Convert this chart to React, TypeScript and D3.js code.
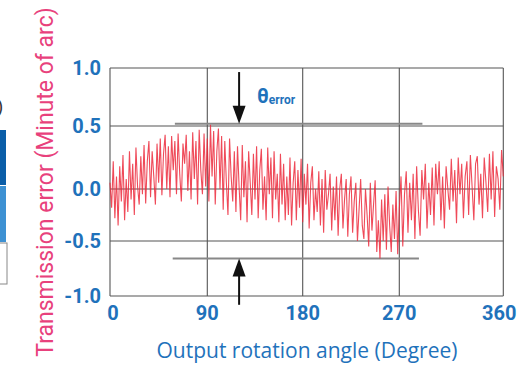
import { useEffect, useRef } from 'react'
import * as d3 from 'd3'

// sampled every 1.5 degrees, 0..360
const STEP = 1.5
const errorValues: number[] = [
  0.05, -0.18, 0.22, -0.28, 0.1, -0.35, 0.18, -0.12, 0.27, -0.3,
  0.08, -0.22, 0.3, -0.1, 0.2, -0.25, 0.33, 0.02, -0.15, 0.26,
  -0.05, 0.35, -0.14, 0.22, 0.38, -0.08, 0.3, 0.1, -0.15, 0.36,
  0.05, 0.4, -0.06, 0.28, 0.43, 0.0, 0.34, -0.08, 0.42, 0.15,
  0.38, -0.05, 0.44, 0.12, -0.12, 0.36, 0.2, 0.43, -0.02, 0.3,
  -0.1, 0.45, 0.08, 0.38, -0.15, 0.47, 0.15, -0.05, 0.44, 0.02,
  0.4, -0.12, 0.51, 0.1, 0.46, -0.15, 0.3, 0.48, 0.0, 0.42,
  -0.2, 0.38, 0.05, -0.25, 0.4, 0.1, -0.12, 0.3, -0.22, 0.34,
  0.02, -0.3, 0.35, -0.08, 0.22, -0.32, 0.3, 0.05, -0.25, 0.28,
  -0.1, 0.34, -0.28, 0.15, 0.32, -0.2, 0.1, -0.3, 0.33, -0.05,
  0.25, -0.28, 0.3, -0.1, 0.12, -0.32, 0.28, -0.15, 0.2, -0.3,
  0.1, -0.25, 0.25, -0.35, 0.05, 0.22, -0.3, 0.15, -0.18, 0.24,
  -0.32, 0.12, -0.15, 0.2, -0.38, 0.05, 0.18, -0.3, 0.0, -0.22,
  0.14, -0.35, 0.08, -0.42, 0.15, -0.2, -0.05, 0.12, -0.4, 0.02,
  -0.3, 0.1, -0.45, 0.0, 0.12, -0.38, -0.1, 0.08, -0.46, -0.05,
  0.1, -0.42, -0.12, 0.05, -0.5, -0.2, 0.08, -0.35, -0.48, 0.0,
  -0.25, -0.55, 0.05, -0.4, -0.15, 0.07, -0.6, -0.3, -0.66, -0.1,
  -0.5, -0.05, -0.58, 0.02, -0.35, -0.6, -0.15, -0.48, -0.02, -0.62,
  -0.2, 0.1, -0.55, -0.05, 0.14, -0.42, 0.05, -0.3, 0.12, -0.48,
  0.18, -0.2, -0.45, 0.15, -0.1, 0.2, -0.38, 0.05, -0.25, 0.17,
  -0.35, 0.2, -0.05, 0.22, -0.3, 0.1, -0.38, 0.18, 0.0, -0.2,
  0.24, -0.12, 0.15, -0.33, 0.25, -0.05, 0.2, -0.28, 0.1, 0.22,
  -0.25, 0.27, 0.02, -0.3, 0.2, 0.26, -0.15, 0.12, -0.28, 0.25,
  0.05, -0.22, 0.28, -0.1, 0.3, -0.27, 0.18, 0.08, -0.2, 0.31,
  0.1,
]

const xTicks = [0, 90, 180, 270, 360]
const yTicks = [-1.0, -0.5, 0.0, 0.5, 1.0]

// theta_error annotation
const arrowAngle = 120
const upperBound = 0.52
const lowerBound = -0.66
const upperSpan = [60, 290]
const lowerSpan = [58, 287]

const BLUE = '#1f72bb'

const App = () => {
  const svgRef = useRef<SVGSVGElement>(null)

  useEffect(() => {
    if (!svgRef.current) return
    const svg = d3.select(svgRef.current)
    svg.selectAll('*').remove()

    // the source chart is hand drawn, grid spacing is not quite even
    const x = d3.scaleLinear().domain(xTicks).range([110, 207.3, 302.7, 399.3, 503.3])
    const y = d3.scaleLinear().domain(yTicks).range([296, 241, 189, 126, 68])

    // fragment of a neighbouring table, cut at the left edge
    svg.append('text')
      .attr('x', -3).attr('y', 113)
      .style('font-family', 'Roboto').style('font-size', '18px')
      .style('fill', '#333').text(')')
    svg.append('rect').attr('x', -2).attr('y', 130).attr('width', 8).attr('height', 55).attr('fill', '#0b5ea8')
    svg.append('rect').attr('x', -2).attr('y', 186).attr('width', 8).attr('height', 56).attr('fill', '#3d91d3')
    svg.append('rect').attr('x', -2).attr('y', 243).attr('width', 9).attr('height', 41)
      .attr('fill', '#fff').attr('stroke', '#888').attr('stroke-width', 1)

    // grid
    const grid = svg.append('g').attr('stroke', '#555').attr('stroke-width', 1.1)
    xTicks.forEach(t => {
      grid.append('line').attr('x1', x(t)).attr('x2', x(t)).attr('y1', y(1)).attr('y2', y(-1))
    })
    yTicks.forEach(t => {
      grid.append('line').attr('x1', x(0)).attr('x2', x(360)).attr('y1', y(t)).attr('y2', y(t))
    })

    // bound lines
    svg.append('line')
      .attr('x1', x(upperSpan[0])).attr('x2', x(upperSpan[1]))
      .attr('y1', y(upperBound)).attr('y2', y(upperBound))
      .attr('stroke', '#888').attr('stroke-width', 2)
    svg.append('line')
      .attr('x1', x(lowerSpan[0])).attr('x2', x(lowerSpan[1]))
      .attr('y1', y(lowerBound)).attr('y2', y(lowerBound))
      .attr('stroke', '#888').attr('stroke-width', 2)

    // signal
    const line = d3.line<number>()
      .x((_, i) => x(i * STEP))
      .y(d => y(d))
    svg.append('path')
      .datum(errorValues)
      .attr('d', line)
      .attr('fill', 'none')
      .attr('stroke', '#ec2a3c')
      .attr('stroke-opacity', 0.85)
      .attr('stroke-width', 1.1)

    // arrows
    const ax = x(arrowAngle)
    svg.append('line').attr('x1', ax).attr('x2', ax)
      .attr('y1', y(0.965)).attr('y2', y(upperBound) - 12)
      .attr('stroke', '#111').attr('stroke-width', 2)
    svg.append('path')
      .attr('d', `M${ax - 6.5},${y(upperBound) - 18} L${ax + 6.5},${y(upperBound) - 18} L${ax},${y(upperBound)} Z`)
      .attr('fill', '#111')
    svg.append('line').attr('x1', ax).attr('x2', ax)
      .attr('y1', y(lowerBound) + 12).attr('y2', y(-1.08))
      .attr('stroke', '#111').attr('stroke-width', 2)
    svg.append('path')
      .attr('d', `M${ax - 6.5},${y(lowerBound) + 18} L${ax + 6.5},${y(lowerBound) + 18} L${ax},${y(lowerBound)} Z`)
      .attr('fill', '#111')

    const lbl = svg.append('text')
      .attr('x', 257).attr('y', 103)
      .style('font-family', 'Roboto').style('font-weight', '700')
      .style('fill', BLUE)
    lbl.append('tspan').style('font-size', '20px').text('θ')
    lbl.append('tspan').attr('dy', 1).style('font-size', '12px').text('error')

    // tick labels
    svg.append('g').selectAll('text')
      .data(xTicks)
      .join('text')
      .attr('x', (d, i) => x(d) + (i === 0 ? 3 : i === xTicks.length - 1 ? -4 : 0))
      .attr('y', 320)
      .attr('text-anchor', 'middle')
      .style('font-family', 'Roboto').style('font-weight', '700')
      .style('font-size', '20px').style('fill', BLUE)
      .text(d => d)

    svg.append('g').selectAll('text')
      .data(yTicks)
      .join('text')
      .attr('x', 101)
      .attr('y', d => y(d))
      .attr('dy', '0.35em')
      .attr('text-anchor', 'end')
      .style('font-family', 'Roboto').style('font-weight', '700')
      .style('font-size', '20px').style('fill', BLUE)
      .text(d => d.toFixed(1))

    // axis titles
    svg.append('text')
      .attr('transform', `translate(53,182) rotate(-90)`)
      .attr('text-anchor', 'middle')
      .style('font-family', 'Roboto').style('font-size', '23px')
      .style('fill', '#e8417c')
      .text('Transmission error (Minute of arc)')

    svg.append('text')
      .attr('x', 307).attr('y', 358)
      .attr('text-anchor', 'middle')
      .style('font-family', 'Open Sans').style('font-size', '21px')
      .style('fill', BLUE)
      .text('Output rotation angle (Degree)')
  }, [])

  return (
    <svg
      ref={svgRef}
      width={522}
      height={365}
      style={{ position: 'absolute', left: 0, top: 0, background: '#fff' }}
    />
  )
}

export default App
